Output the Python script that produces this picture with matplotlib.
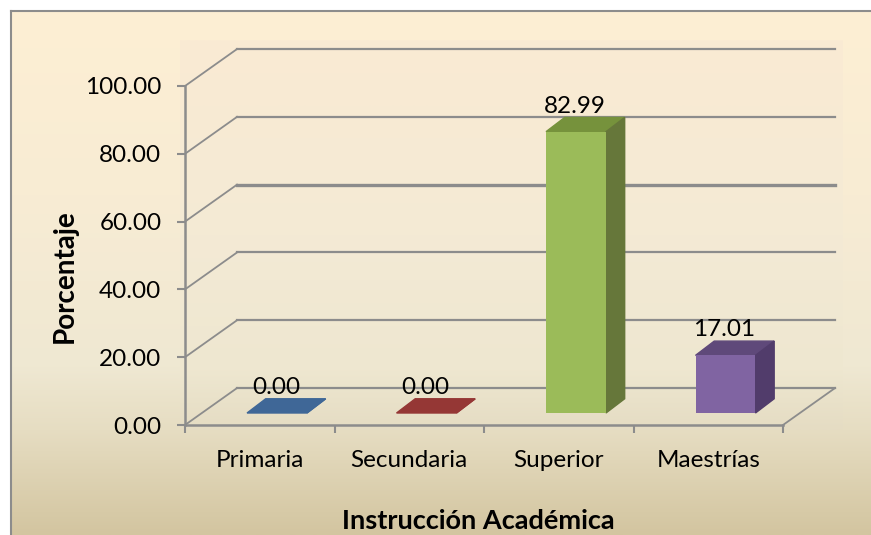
#!/usr/bin/env python3
"""Bar chart of academic instruction levels, drawn with a faked 3D look."""

import numpy as np
import matplotlib

matplotlib.use("Agg")  # headless
import matplotlib.pyplot as plt
from matplotlib.colors import LinearSegmentedColormap
from matplotlib.patches import Polygon

categories = ["Primaria", "Secundaria", "Superior", "Maestrías"]
values = [0.00, 0.00, 82.99, 17.01]
y_ticks = [0, 20, 40, 60, 80, 100]

front_colors = ["#3F6797", "#953735", "#9BBB59", "#8064A2"]
top_colors = ["#3F6797", "#953735", "#76923C", "#5F497A"]
side_colors = ["#3F6797", "#953735", "#66773A", "#513C6B"]
GREY = "#8C8C8C"

W, H = 871, 535
plt.rcParams["font.family"] = ["Lato", "DejaVu Sans"]

fig = plt.figure(figsize=(W / 100, H / 100), dpi=100, facecolor="white")


def px_axes(left, top, right, bottom, **kw):
    """Axes placed by pixel box, y measured from the top of the image."""
    return fig.add_axes([left / W, 1 - bottom / H, (right - left) / W, (bottom - top) / H], **kw)


def gradient(stops):
    return LinearSegmentedColormap.from_list("g", stops)


# chart background, its frame runs off the image on the right and at the bottom
bg = px_axes(11, 11, 871, 535, zorder=0)
bg.imshow(np.linspace(0, 1, 256)[:, None], aspect="auto", cmap=gradient(
    [(0, "#FDEFD3"), (0.35, "#F8ECD4"), (0.68, "#EFE8D2"), (0.8, "#E6DDC2"), (1, "#D3C5A0")]))
bg.set_xticks([])
bg.set_yticks([])
for side, s in bg.spines.items():
    s.set_color(GREY)
    s.set_linewidth(1.5)
    s.set_visible(side in ("top", "left"))

# plot area, a shade lighter than the chart
area = px_axes(180, 40, 843, 430, zorder=1)
area.imshow(np.linspace(0, 1, 256)[:, None], aspect="auto", cmap=gradient(
    [(0, "#FAEBD3"), (0.5, "#F4EAD5"), (0.85, "#EEE7D0"), (1, "#E5DCC3")]))
area.axis("off")

# front plane: x in category units, y in percent
ax = px_axes(185, 86, 783, 425, zorder=2)
ax.patch.set_alpha(0)
ax.set_xlim(0, len(categories))
ax.set_ylim(0, 100)

# depth of the box and of the bars, in data units
depth_x, depth_y = 0.348, 10.9
bar_dx, bar_dy = 0.125, 4.2
bar_left, bar_w, bar_base = 0.415, 0.401, 3.54

# walls and floor
for t in y_ticks:
    back_lw = 2.4 if t == 60 else 1.6
    ax.plot([0, depth_x], [t, t + depth_y], color=GREY, lw=1.3, clip_on=False, zorder=1)
    ax.plot([depth_x, len(categories) + depth_x], [t + depth_y, t + depth_y],
            color=GREY, lw=back_lw, clip_on=False, zorder=1)
ax.plot([len(categories), len(categories) + depth_x], [0, depth_y],
        color=GREY, lw=1.3, clip_on=False, zorder=1)

# bars: front face through ax.bar, top and side faces as polygons behind it
for i, v in enumerate(values):
    x0 = i + bar_left
    x1 = x0 + bar_w
    y0 = bar_base
    y1 = bar_base + v
    ax.bar(x0, v, width=bar_w, bottom=y0, align="edge", color=front_colors[i],
           clip_on=False, zorder=4)
    ax.add_patch(Polygon([(x0, y1), (x1, y1), (x1 + bar_dx, y1 + bar_dy), (x0 + bar_dx, y1 + bar_dy)],
                         closed=True, color=top_colors[i], clip_on=False, zorder=3))
    ax.add_patch(Polygon([(x1, y0), (x1 + bar_dx, y0 + bar_dy), (x1 + bar_dx, y1 + bar_dy), (x1, y1)],
                         closed=True, color=side_colors[i], clip_on=False, zorder=3))
    ax.text(x0 + bar_w / 2 - 0.008, y1 + bar_dy + 1.4, f"{v:.2f}", ha="center", va="baseline",
            fontsize=17.5, color="black", zorder=5)

for side in ("top", "right"):
    ax.spines[side].set_visible(False)
for side in ("left", "bottom"):
    ax.spines[side].set_color(GREY)
    ax.spines[side].set_linewidth(1.8)

ax.set_yticks(y_ticks)
ax.set_yticklabels([f"{t:.2f}" for t in y_ticks], fontsize=17.5)
ax.set_xticks(range(len(categories) + 1))
ax.set_xticklabels([])
ax.tick_params(axis="both", color=GREY, width=1.5, length=6)
ax.tick_params(axis="y", pad=11)

for i, name in enumerate(categories):
    ax.annotate(name, (i + 0.5, 0), xytext=(0, -30), textcoords="offset points", ha="center",
                va="baseline", fontsize=17.5, color="black")

fig.text(65 / W, 1 - 276 / H, "Porcentaje", rotation=90, ha="center", va="center",
         fontsize=20, fontweight="bold", color="black")
fig.text(478 / W, 1 - 521 / H, "Instrucción Académica", ha="center", va="center",
         fontsize=19.5, fontweight="bold", color="black")

fig.savefig("out.png", dpi=100)
print("wrote out.png")
